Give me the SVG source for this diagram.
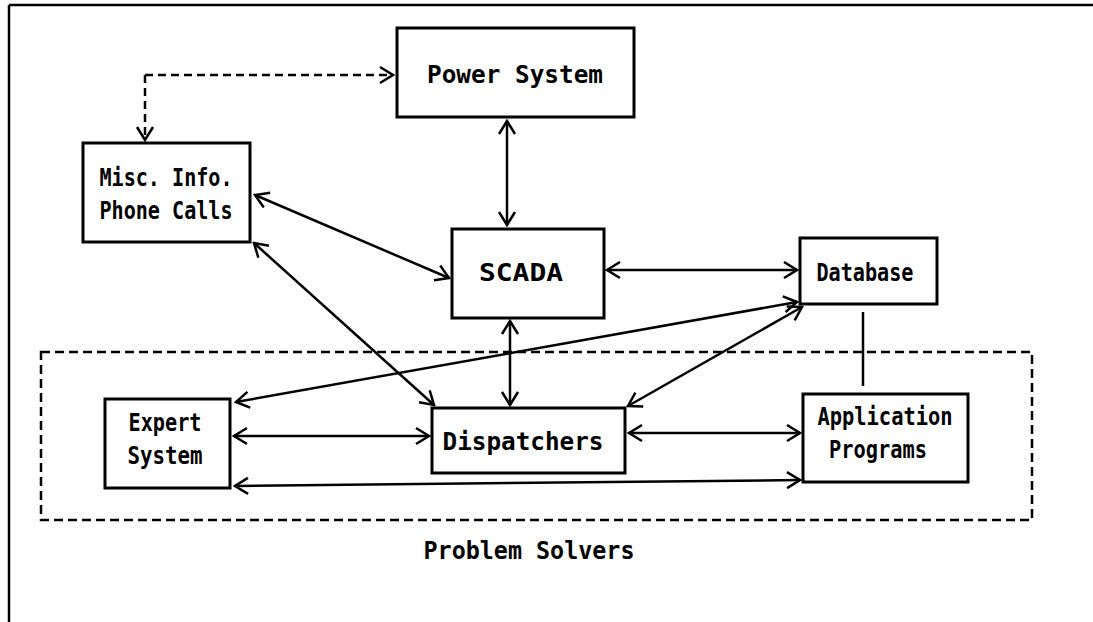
<svg xmlns="http://www.w3.org/2000/svg" width="1093" height="622" viewBox="0 0 1093 622">
<defs>
<style>
.box{fill:#fff;stroke:#000;stroke-width:3}
.t{font-family:"DejaVu Sans Mono","Liberation Mono",monospace;font-weight:bold;font-size:25px;fill:#000;text-anchor:middle}
.c{fill:none;stroke:#000;stroke-width:2.5}
.d{fill:none;stroke:#000;stroke-width:2.5;stroke-dasharray:8 5}
.g{fill:none;stroke:#000;stroke-width:2.5;stroke-dasharray:9 5}
</style>
<marker id="ah" viewBox="-16 -10 18 20" refX="0" refY="0" markerWidth="18" markerHeight="20" markerUnits="userSpaceOnUse" orient="auto-start-reverse">
<path d="M-13,-8 L0,0 L-13,8" fill="none" stroke="#000" stroke-width="2.5"/>
</marker>
</defs>
<rect width="1093" height="622" fill="#fff"/>
<g id="frame">
<path d="M9,5 H1093 M9,5 V622" fill="none" stroke="#000" stroke-width="2.5"/>
</g>
<g id="problem-solvers">
<rect x="41" y="352" width="991" height="168" class="g"/>
<text x="529" y="559" class="t" textLength="211" lengthAdjust="spacingAndGlyphs">Problem Solvers</text>
</g>
<g id="connectors">
<path class="d" d="M145,75 H393" marker-end="url(#ah)"/>
<path class="d" d="M145,75 V140" marker-end="url(#ah)"/>
<path class="c" d="M507,121 V225" marker-start="url(#ah)" marker-end="url(#ah)"/>
<path class="c" d="M255,195 L449,278" marker-start="url(#ah)" marker-end="url(#ah)"/>
<path class="c" d="M254,243 L434,405" marker-start="url(#ah)" marker-end="url(#ah)"/>
<path class="c" d="M607,270 H797" marker-start="url(#ah)" marker-end="url(#ah)"/>
<path class="c" d="M510,321 V405" marker-start="url(#ah)" marker-end="url(#ah)"/>
<path class="c" d="M797,302 L236,402" marker-start="url(#ah)" marker-end="url(#ah)"/>
<path class="c" d="M802,307 L628,406" marker-start="url(#ah)" marker-end="url(#ah)"/>
<path class="c" d="M863,312 V386"/>
<path class="c" d="M234,436 H429" marker-start="url(#ah)" marker-end="url(#ah)"/>
<path class="c" d="M629,433 H800" marker-start="url(#ah)" marker-end="url(#ah)"/>
<path class="c" d="M235,486 L800,480" marker-start="url(#ah)" marker-end="url(#ah)"/>
</g>
<g id="power-system">
<rect x="397" y="28" width="237" height="89" class="box"/>
<text x="515" y="83" class="t" textLength="176" lengthAdjust="spacingAndGlyphs">Power System</text>
</g>
<g id="misc-info">
<rect x="83" y="143" width="167" height="99" class="box"/>
<text x="166" y="186" class="t" textLength="133" lengthAdjust="spacingAndGlyphs">Misc. Info.</text>
<text x="166" y="219" class="t" textLength="133" lengthAdjust="spacingAndGlyphs">Phone Calls</text>
</g>
<g id="scada">
<rect x="452" y="229" width="152" height="89" class="box"/>
<text x="521" y="281" class="t" textLength="84" lengthAdjust="spacingAndGlyphs">SCADA</text>
</g>
<g id="database">
<rect x="800" y="238" width="137" height="66" class="box"/>
<text x="865" y="281" class="t" textLength="97" lengthAdjust="spacingAndGlyphs">Database</text>
</g>
<g id="expert-system">
<rect x="105" y="399" width="125" height="89" class="box"/>
<text x="165" y="431" class="t" textLength="73" lengthAdjust="spacingAndGlyphs">Expert</text>
<text x="165" y="464" class="t" textLength="75" lengthAdjust="spacingAndGlyphs">System</text>
</g>
<g id="dispatchers">
<rect x="432" y="408" width="193" height="65" class="box"/>
<text x="523" y="450" class="t" textLength="161" lengthAdjust="spacingAndGlyphs">Dispatchers</text>
</g>
<g id="application-programs">
<rect x="803" y="394" width="165" height="88" class="box"/>
<text x="885" y="425" class="t" textLength="135" lengthAdjust="spacingAndGlyphs">Application</text>
<text x="878" y="458" class="t" textLength="98" lengthAdjust="spacingAndGlyphs">Programs</text>
</g>
</svg>
